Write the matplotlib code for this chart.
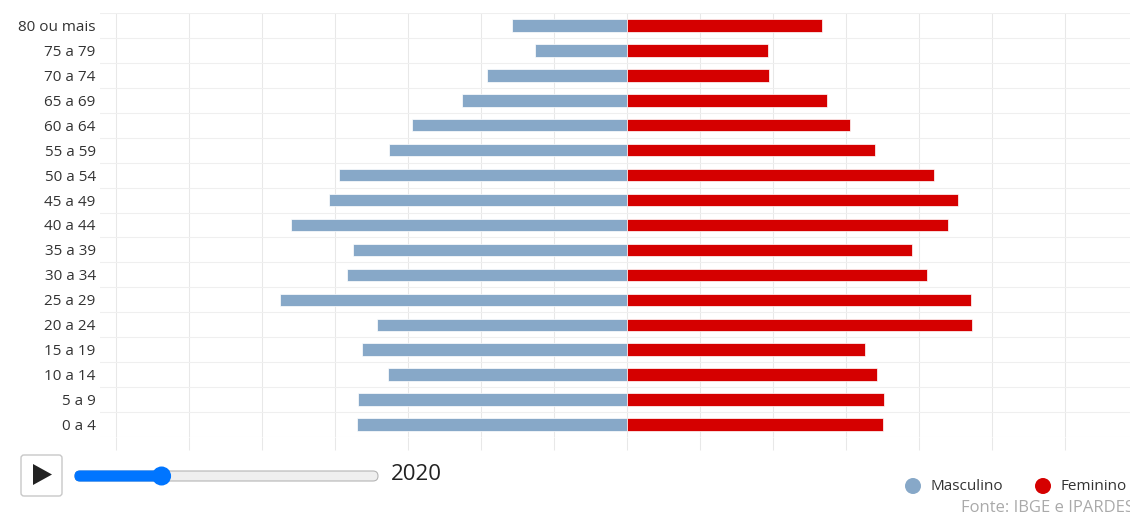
import matplotlib
matplotlib.use('Agg')
import matplotlib.pyplot as plt
from matplotlib.patches import FancyBboxPatch, Polygon, Circle
import numpy as np

plt.rcParams['font.family'] = ['Open Sans', 'DejaVu Sans']

# faixas etarias, de baixo para cima
faixas = ['0 a 4', '5 a 9', '10 a 14', '15 a 19', '20 a 24', '25 a 29',
          '30 a 34', '35 a 39', '40 a 44', '45 a 49', '50 a 54', '55 a 59',
          '60 a 64', '65 a 69', '70 a 74', '75 a 79', '80 ou mais']
masculino = [3703, 3681, 3274, 3634, 3429, 4758, 3832, 3758, 4607, 4082,
             3945, 3256, 2941, 2264, 1922, 1260, 1571]
feminino = [3511, 3516, 3421, 3264, 4730, 4708, 4114, 3900, 4401, 4538,
            4210, 3401, 3051, 2744, 1949, 1936, 2667]

ano = 2020
ano_min, ano_max = 2010, 2045

cor_masc = '#87a8c8'
cor_fem = '#d50000'
cor_grade = '#e8e8e8'
cor_texto = '#333333'

W, H = 1130, 517
fig = plt.figure(figsize=(W / 100, H / 100), dpi=100)

# --- piramide ---
ax = fig.add_axes([100 / W, 1 - 437 / H, 1054 / W, 424 / H])
y = np.arange(len(faixas))
ax.barh(y, -np.array(masculino), height=0.5, color=cor_masc,
        edgecolor='white', linewidth=0.5, zorder=3)
ax.barh(y, feminino, height=0.5, color=cor_fem,
        edgecolor='white', linewidth=0.5, zorder=3)

ax.set_xlim(-7219, 7219)
ax.set_ylim(-0.5, len(faixas) - 0.5)
ax.set_xticks(np.arange(-7000, 7001, 1000))
ax.set_xticklabels([])
ax.tick_params(axis='x', length=9.4, width=0.75, color=cor_grade,
               direction='out')
ax.set_yticks(y)
ax.set_yticklabels(faixas)
ax.set_yticks(np.arange(-0.5, len(faixas)), minor=True)
ax.tick_params(axis='y', which='both', length=0, pad=3, labelsize=11,
               labelcolor=cor_texto)
ax.grid(axis='x', color=cor_grade, linewidth=0.75)
ax.grid(axis='y', which='minor', color='#efefef', linewidth=0.75)
ax.grid(axis='y', which='major', visible=False)
ax.set_axisbelow(True)
for s in ax.spines.values():
    s.set_visible(False)

# --- controles (play, slider, ano) e legenda ---
ui = fig.add_axes([0, 0, 1, 1])
ui.set_xlim(0, W)
ui.set_ylim(H, 0)
ui.axis('off')

ui.add_patch(FancyBboxPatch((21, 455), 41, 41,
                            boxstyle='round,pad=0,rounding_size=3',
                            fc='white', ec='#c8c8c8', lw=1))
ui.add_patch(Polygon([(33, 464), (33, 485), (52, 474.5)], closed=True,
                     fc='#222222', ec='none'))

trilho_x0, trilho_x1 = 75, 378
frac = (ano - ano_min) / (ano_max - ano_min)
thumb_x = trilho_x0 + frac * (trilho_x1 - trilho_x0)
ui.add_patch(FancyBboxPatch((trilho_x0, 471), trilho_x1 - trilho_x0, 10,
                            boxstyle='round,pad=0,rounding_size=5',
                            fc='#efefef', ec='#b5b5b5', lw=0.8))
ui.add_patch(FancyBboxPatch((trilho_x0, 471), thumb_x - trilho_x0, 10,
                            boxstyle='round,pad=0,rounding_size=5',
                            fc='#0075ff', ec='#0075ff', lw=0.8))
ui.add_patch(Circle((thumb_x, 476), 9.5, fc='#0075ff', ec='none'))
ui.text(391, 474, str(ano), fontsize=16, ha='left', va='center',
        color='#222222')

ui.add_patch(Circle((913, 486), 8, fc=cor_masc, ec='none'))
ui.text(931, 486, 'Masculino', fontsize=11, ha='left', va='center',
        color=cor_texto)
ui.add_patch(Circle((1043, 486), 8, fc=cor_fem, ec='none'))
ui.text(1060, 486, 'Feminino', fontsize=11, ha='left', va='center',
        color=cor_texto)
# na referencia a fonte aparece cortada na borda direita
ui.text(961, 508, 'Fonte: IBGE e IPARDES', fontsize=12, ha='left',
        va='center', color='#aaaaaa')

fig.savefig('out.png', dpi=100)
